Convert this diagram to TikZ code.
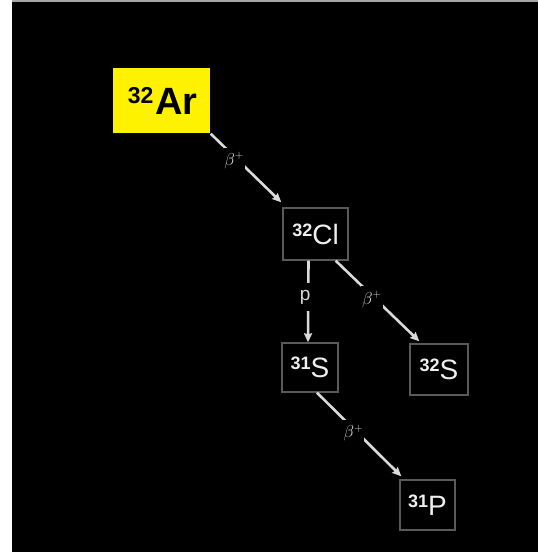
\documentclass[tikz,border=0pt]{standalone}
\usepackage{fontspec}
\setmainfont{Liberation Sans}
\usetikzlibrary{arrows.meta}
\definecolor{boxline}{HTML}{5A5A5A}
\definecolor{txt}{HTML}{EEEEEE}
\definecolor{arr}{HTML}{DADADA}
\begin{document}
\begin{tikzpicture}[x=1pt,y=-1pt,
  nuc/.style={draw=boxline,line width=1.4pt,fill=black,text=txt,inner sep=0pt,anchor=center},
  decay/.style={draw=arr,line width=2.6pt,-{Stealth[length=9pt,width=8pt,inset=1pt]}},
  lab/.style={fill=black,text=arr,inner sep=1pt,font=\fontsize{16}{16}\selectfont},
]
\useasboundingbox (0,0) rectangle (538,552);
\fill[white] (0,0) rectangle (538,552);
\fill[black] (12,2) rectangle (538,552);
\fill[gray!70] (12,0) rectangle (538,2);

\node[nuc,draw=none,fill=yellow,text=black,minimum width=97pt,minimum height=65pt] (ar) at (161.5,100.5)
  {\hspace*{2pt}\raisebox{11pt}{\fontsize{23}{23}\selectfont\bfseries 32}\,\fontsize{38}{38}\selectfont\bfseries Ar};
\node[nuc,minimum width=65pt,minimum height=52pt] (cl) at (315.5,234)
  {\raisebox{8pt}{\fontsize{18}{18}\selectfont\bfseries 32}\fontsize{28}{28}\selectfont Cl};
\node[nuc,minimum width=56pt,minimum height=49pt] (s31) at (310,367.5)
  {\raisebox{8pt}{\fontsize{18}{18}\selectfont\bfseries 31}\fontsize{28}{28}\selectfont S};
\node[nuc,minimum width=58pt,minimum height=51pt] (s32) at (439,369.5)
  {\raisebox{8pt}{\fontsize{18}{18}\selectfont\bfseries 32}\fontsize{28}{28}\selectfont S};
\node[nuc,minimum width=55pt,minimum height=50pt] (p31) at (427.5,505)
  {\raisebox{8pt}{\fontsize{18}{18}\selectfont\bfseries 31}\fontsize{28}{28}\selectfont P};

\coordinate (clin) at ([shift={(-1,-5)}]cl.north west);
\draw[decay] (ar.south east) -- node[lab,pos=0.39,minimum width=14pt,minimum height=24pt,xshift=-4pt]{$\beta^{+}$} (clin);

\coordinate (clpo) at ([xshift=-7pt]cl.south);
\coordinate (s31i) at ([xshift=-2pt]s31.north);
\draw[decay] (clpo) -- node[lab,pos=0.45,minimum height=28pt,font=\fontsize{19}{19}\selectfont,xshift=-3pt]{p} (s31i);

\coordinate (clbr) at ([xshift=-13pt]cl.south east);
\coordinate (s32i) at ([shift={(10,-2)}]s32.north west);
\draw[decay] (clbr) -- node[lab,pos=0.48,minimum width=16pt,minimum height=26pt,xshift=-4pt]{$\beta^{+}$} (s32i);

\coordinate (s31o) at ([xshift=7pt]s31.south);
\coordinate (p31i) at ([shift={(2,-3)}]p31.north west);
\draw[decay] (s31o) -- node[lab,pos=0.48,minimum width=16pt,minimum height=26pt,xshift=-4pt]{$\beta^{+}$} (p31i);
\end{tikzpicture}
\end{document}
